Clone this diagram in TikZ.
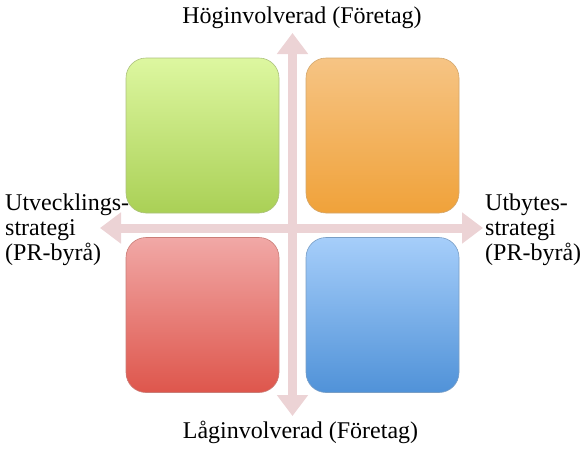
\documentclass[tikz,border=0pt]{standalone}
\usepackage{fontspec}
\setmainfont{Liberation Serif}
\usetikzlibrary{arrows.meta}
\definecolor{axisPink}{RGB}{236,211,213}
\definecolor{greenTop}{RGB}{221,247,160}
\definecolor{greenBot}{RGB}{170,208,86}
\definecolor{orangeTop}{RGB}{246,196,132}
\definecolor{orangeBot}{RGB}{240,162,58}
\definecolor{redTop}{RGB}{241,168,166}
\definecolor{redBot}{RGB}{222,86,76}
\definecolor{blueTop}{RGB}{166,206,250}
\definecolor{blueBot}{RGB}{80,146,216}
\tikzset{
    quad/.style = {rounded corners=20pt, minimum width=153pt, minimum height=155pt, inner sep=0pt, line width=0.6pt},
    axis/.style = {draw=axisPink, line width=9pt, {Triangle[width=30pt,length=21pt]}-{Triangle[width=30pt,length=21pt]}},
    label/.style = {font=\fontsize{24}{25}\selectfont, inner sep=0pt}
}
\newcommand{\quadBox}[4]{
    \node[quad, top color=#3, bottom color=#4, draw=#4!80!black!70] (#1) at #2 {};
}
\begin{document}
\begin{tikzpicture}[x=1pt, y=-1pt]
    \useasboundingbox (0,0) rectangle (586,458);

    \coordinate (up) at (292.5, 33);
    \coordinate (down) at (292.5, 416);
    \coordinate (west) at (100, 228);
    \coordinate (east) at (483, 228);
    \draw[axis] (down) -- (up);
    \draw[axis] (west) -- (east);

    \quadBox{hiUtv}{(202.5, 135.5)}{greenTop}{greenBot}
    \quadBox{hiUtb}{(382.5, 135.5)}{orangeTop}{orangeBot}
    \quadBox{loUtv}{(202.5, 315)}{redTop}{redBot}
    \quadBox{loUtb}{(382.5, 315)}{blueTop}{blueBot}

    \node[label, anchor=base] (hog) at (302, 23) {Höginvolverad (Företag)};
    \node[label, anchor=base] (lag) at (300.5, 438) {Låginvolverad (Företag)};
    \node[label, anchor=north west, align=left] (utv) at (5, 193.6) {Utvecklings-\\strategi\\(PR-byrå)};
    \node[label, anchor=north west, align=left] (utb) at (485, 193.6) {Utbytes-\\strategi\\(PR-byrå)};
\end{tikzpicture}
\end{document}
